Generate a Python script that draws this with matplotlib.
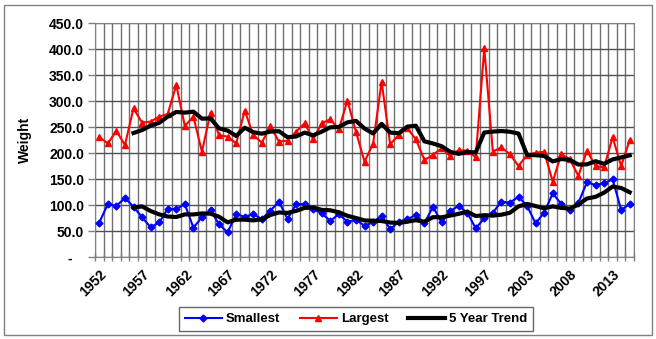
import numpy as np
import matplotlib.pyplot as plt
from matplotlib.patches import Rectangle
from matplotlib.ticker import MultipleLocator, FuncFormatter

plt.rcParams['font.family'] = ['Liberation Sans', 'DejaVu Sans']
plt.rcParams['font.weight'] = 'bold'

# one year (2002) is missing from the record
years = list(range(1952, 2002)) + list(range(2003, 2016))

smallest = [66.7, 102.6, 98.7, 114, 97.4, 77, 57.7, 67, 93, 93,
            102, 57, 77, 90.4, 63.5, 48, 82.7, 78, 82.7, 73.7,
            89.8, 107, 73.7, 102, 102.6, 93, 84.6, 70, 83, 68.6,
            71.8, 61, 67.3, 80, 53.8, 68.6, 73, 81.4, 65.4, 97.4,
            67.3, 89, 98.7, 86, 55.8, 75, 85.8, 107, 105, 116.6,
            98.7, 65.4, 85.8, 123, 102.5, 91, 105, 144.2, 139, 142.3,
            150, 91, 102.5]

largest = [231, 219, 243, 216, 286.5, 259, 261, 270.5, 275.6, 331.4,
           252.6, 270.5, 203, 278, 235, 232, 219, 282, 235, 220.5,
           252.6, 222.4, 224.4, 241.7, 257.7, 227, 257.7, 265.4, 246, 301.3,
           241.7, 184, 218, 337.8, 217.3, 235.3, 248, 227, 187.2, 196.8,
           209.6, 195, 206, 205, 192.3, 402, 203.2, 211.5, 198, 175.6,
           196.8, 201, 203, 145.5, 198.7, 188.5, 156.4, 205, 175.6, 173,
           230.8, 175.6, 225.6]

trend_small = [None, None, None, None, 95.9, 97.9, 89.0, 82.6, 78.4, 77.5,
               82.5, 82.4, 84.4, 83.9, 78.0, 67.2, 72.3, 72.5, 71.0, 73.0,
               81.4, 86.2, 85.4, 89.2, 95.0, 95.7, 91.2, 90.4, 86.6, 79.8,
               75.6, 70.9, 70.3, 69.7, 66.8, 66.1, 68.5, 71.4, 68.4, 77.2,
               76.9, 80.1, 83.6, 87.7, 79.4, 80.9, 80.3, 81.9, 85.7, 97.9,
               102.6, 98.5, 94.3, 97.9, 95.1, 93.5, 101.5, 113.1, 116.3, 124.3,
               136.1, 133.3, 125.0]

trend_large = [None, None, None, None, 239.0, 244.7, 253.1, 258.6, 270.5, 279.5,
               278.2, 280.1, 266.6, 267.1, 247.8, 243.7, 233.4, 249.2, 240.6, 237.7,
               241.8, 242.5, 231.0, 232.3, 239.8, 234.6, 241.7, 249.9, 250.8, 259.5,
               262.4, 247.7, 238.2, 256.6, 239.8, 238.5, 251.3, 253.0, 223.0, 218.9,
               213.7, 203.0, 198.9, 202.5, 201.6, 240.0, 241.7, 242.8, 241.4, 238.0,
               197.0, 196.6, 194.9, 184.4, 189.0, 187.3, 178.4, 178.8, 184.8, 179.7,
               188.2, 192.0, 196.1]

x = np.arange(len(years))

fig = plt.figure(figsize=(6.56, 3.39), dpi=100)
ax = fig.add_axes([95 / 656, 1 - 257.3 / 339, 539 / 656, 234 / 339])

ax.plot(x, smallest, color='#0000FF', lw=1.5, marker='D', ms=3.5, label='Smallest', zorder=3)
ax.plot(x, largest, color='#FF0000', lw=1.5, marker='^', ms=4.5, label='Largest', zorder=3)
ax.plot(x, np.array(trend_large, dtype=float), color='black', lw=3, label='5 Year Trend', zorder=4)
ax.plot(x, np.array(trend_small, dtype=float), color='black', lw=3, zorder=4)

ax.set_xlim(-0.5, len(years) - 0.5)
ax.set_ylim(0, 450)

# y axis
ax.yaxis.set_major_locator(MultipleLocator(50))
ax.yaxis.set_major_formatter(FuncFormatter(lambda v, p: '-   ' if v == 0 else f'{v:.1f}'))
ax.tick_params(axis='y', length=5, width=1, color='#808080', labelsize=10, pad=3)
ax.set_ylabel('Weight', fontsize=10, fontweight='bold', labelpad=12)

# x axis: labels every 5th category, ticks and grid at category boundaries
ax.set_xticks(x[::5])
ax.set_xticklabels([str(years[i]) for i in x[::5]], rotation=45, ha='right',
                   rotation_mode='anchor', fontsize=10)
ax.set_xticks(np.arange(-0.5, len(years)), minor=True)
ax.tick_params(axis='x', which='major', length=0, pad=7)
ax.tick_params(axis='x', which='minor', length=6, width=1, color='#808080', direction='inout')
ax.grid(True, which='minor', axis='x', color='#707070', lw=1)
ax.grid(True, which='major', axis='y', color='#505050', lw=1)
ax.set_axisbelow(True)
for s in ax.spines.values():
    s.set_color('#808080')

leg = fig.legend(loc='center', bbox_to_anchor=(356 / 656, 1 - 319 / 339), ncol=3,
                 fontsize=9.5, frameon=True, fancybox=False, handlelength=2.8,
                 columnspacing=1.5, handletextpad=0.3, borderpad=0.45)
leg.get_frame().set_edgecolor('#404040')
leg.get_frame().set_linewidth(1)

fig.patches.append(Rectangle((4 / 656, 4 / 339), 648 / 656, 330 / 339, transform=fig.transFigure,
                             fill=False, edgecolor='#808080', lw=1))

fig.savefig('out.png', dpi=100)
